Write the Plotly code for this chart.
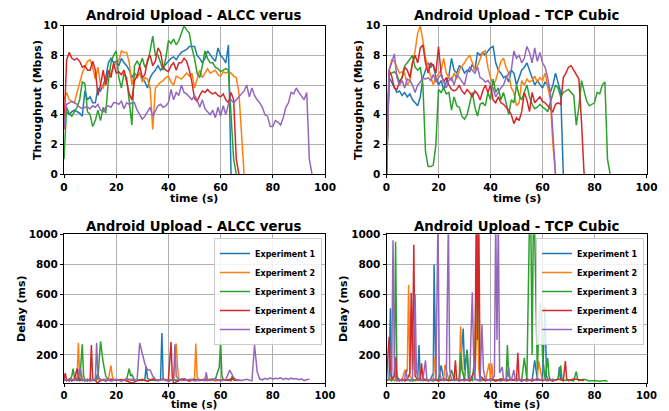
import plotly.graph_objects as go

# ---------------- DATA ----------------
colors = ["#1f77b4", "#ff7f0e", "#2ca02c", "#d62728", "#9467bd"]
exp_names = ["Experiment 1", "Experiment 2", "Experiment 3", "Experiment 4", "Experiment 5"]
titles = ["Android Upload - ALCC verus", "Android Upload - TCP Cubic"]
x_ticks = [0, 20, 40, 60, 80, 100]
thr_ticks = [0, 2, 4, 6, 8, 10]
delay_ticks = [200, 400, 600, 800, 1000]

# Throughput (Mbps), one sample per second starting at t=0
alcc_thr_1 = [4.0,4.2,4.0,4.2,4.3,4.2,4.1,3.9,5.6,5.0,
              5.2,4.8,4.8,5.8,5.6,6.0,6.5,7.5,7.8,7.5,
              7.6,7.3,7.8,7.5,7.3,7.0,6.5,6.8,6.6,6.8,
              6.5,6.2,5.8,6.5,6.8,7.0,7.3,7.0,7.2,7.4,
              7.6,7.8,7.9,7.7,8.0,8.2,8.3,8.4,8.6,8.6,
              8.6,8.0,7.8,7.5,7.8,8.3,8.0,7.8,7.6,8.5,
              8.0,7.8,7.5,8.7,0.0]
alcc_thr_2 = [5.0,5.5,5.0,4.9,4.8,5.5,6.2,6.8,7.2,7.6,
              7.7,7.2,6.4,7.2,6.0,5.8,6.2,6.5,6.8,7.2,
              7.5,7.6,8.3,8.2,8.2,7.5,6.0,6.8,6.5,6.8,
              6.2,6.5,6.4,5.8,3.0,5.8,6.0,6.2,6.3,6.5,
              6.6,6.2,6.0,6.6,6.5,6.4,6.6,6.8,6.6,6.8,
              5.8,6.5,7.0,6.5,6.8,7.1,6.8,6.9,7.0,6.7,
              6.6,6.9,6.8,6.9,6.8,6.6,6.5,5.5,2.5,0.0]
alcc_thr_3 = [1.0,4.5,4.1,3.9,4.2,4.5,5.0,6.2,6.1,4.2,
              4.0,3.2,3.6,4.3,3.6,4.5,4.1,6.3,7.5,8.0,
              8.3,6.5,5.8,6.8,6.5,4.8,3.3,7.3,7.6,7.3,
              7.8,7.2,7.5,8.3,9.3,8.0,8.0,7.5,7.0,7.8,
              9.0,8.8,9.1,8.7,9.0,9.5,10.0,9.7,9.5,8.5,
              7.8,6.8,6.5,7.3,8.3,7.8,7.5,7.5,7.2,7.1,
              6.9,7.0,7.1,7.0,4.0,1.0,0.0]
alcc_thr_4 = [3.0,7.7,8.2,7.8,7.7,7.8,7.6,7.2,7.3,7.0,
              7.0,7.6,7.0,5.3,6.0,7.0,6.0,7.0,6.5,7.5,
              6.8,6.9,6.7,7.0,6.2,5.4,5.0,6.3,6.6,7.3,
              6.5,6.7,7.7,8.0,7.3,7.6,8.5,8.2,7.2,7.0,
              6.9,7.3,7.5,7.0,7.5,7.5,7.8,7.6,7.0,6.2,
              5.1,4.9,5.3,5.6,5.5,5.7,5.5,5.4,5.5,5.3,
              5.2,5.4,5.0,4.8,5.5,5.0,1.0,0.0]
alcc_thr_5 = [3.2,4.7,4.8,4.9,4.8,4.7,4.5,4.4,4.5,4.5,
              4.4,4.6,4.5,4.7,4.3,4.2,4.5,4.6,4.5,4.8,
              4.8,4.7,4.9,4.4,4.8,4.7,4.8,4.8,4.3,4.0,
              3.7,3.9,4.2,4.5,3.9,4.3,4.6,4.7,4.5,4.6,
              4.8,5.7,5.0,5.5,5.3,6.0,5.5,5.4,5.2,5.0,
              5.3,5.0,4.5,5.0,4.4,4.2,4.0,4.3,3.8,4.5,
              3.9,4.6,4.0,4.7,5.0,4.8,5.0,5.2,5.4,5.6,
              6.0,5.2,5.8,5.3,5.0,4.8,4.5,4.0,3.9,3.2,
              3.2,3.6,3.5,3.3,3.8,4.5,4.8,5.5,5.4,5.8,
              5.5,5.2,5.0,5.5,1.0,0.0]

cubic_thr_1 = [0.0,6.5,6.2,5.8,5.5,5.6,5.3,5.5,5.2,5.4,
               5.0,4.8,4.6,5.2,6.5,7.0,7.5,7.2,7.4,6.5,
               6.0,6.3,5.7,6.2,6.6,7.8,7.0,6.8,7.3,7.2,
               6.8,7.0,6.9,7.4,7.0,8.2,8.0,8.2,8.0,8.3,
               8.5,8.6,7.5,7.0,6.8,6.5,6.6,6.2,7.0,6.8,
               6.0,6.5,7.0,7.2,7.5,7.0,6.5,6.0,6.3,6.0,
               5.8,6.2,6.0,5.5,6.0,6.8,6.2,5.5,0.0]
cubic_thr_2 = [0.0,7.0,7.7,7.6,7.2,6.8,6.9,6.8,6.0,6.3,
               7.5,8.3,9.5,10.0,9.0,7.8,7.2,6.5,6.0,6.5,
               6.8,7.0,7.8,6.8,6.5,6.3,6.8,6.4,7.0,7.3,
               7.5,7.8,8.0,7.5,7.0,7.3,7.8,8.2,8.3,7.2,
               6.5,6.0,6.3,7.0,7.6,7.8,7.2,6.8,5.8,5.5,
               4.6,4.8,6.3,6.0,6.4,6.2,6.3,6.6,6.2,6.5,
               6.3,6.8,6.0,5.0,2.0,0.0]
cubic_thr_3 = [0.0,6.7,6.8,6.9,6.7,6.2,6.5,7.3,7.5,7.8,
               8.0,7.2,7.0,7.2,6.0,1.5,0.5,0.5,0.6,2.0,
               5.7,5.5,5.8,5.4,5.5,4.3,5.2,4.6,4.5,3.9,
               3.7,4.0,4.8,5.5,4.5,3.9,4.7,4.8,4.6,5.5,
               5.0,6.4,5.5,5.8,5.0,5.5,4.8,4.0,5.0,4.8,
               6.0,5.3,5.0,5.5,6.0,5.2,4.7,4.4,4.5,4.7,
               4.5,4.4,4.2,4.8,5.5,6.0,5.8,5.2,5.5,5.6,
               5.7,5.5,5.3,3.3,4.5,6.3,5.5,4.9,4.6,4.7,
               4.8,5.5,5.4,6.0,6.2,1.0,0.0]
cubic_thr_4 = [0.0,7.0,6.6,5.8,5.7,6.2,6.5,7.2,7.0,6.5,
               7.5,8.0,7.5,8.5,8.7,7.5,6.8,7.5,7.3,6.8,
               8.6,6.8,6.2,6.5,6.0,5.7,5.6,5.7,6.0,5.6,
               5.4,5.7,5.5,5.2,5.6,5.4,5.0,5.6,6.0,5.5,
               6.0,5.0,4.8,5.2,4.8,4.7,4.5,4.3,4.0,3.4,
               3.8,3.6,4.2,5.5,5.0,4.2,5.5,4.8,5.0,5.2,
               4.9,4.8,4.6,4.4,4.2,4.7,4.8,4.7,6.5,6.8,
               7.2,7.3,7.0,6.6,6.4,3.5,0.0]
cubic_thr_5 = [0.0,7.0,7.5,8.1,6.5,6.0,6.3,5.8,6.4,6.3,
               6.0,5.5,6.0,6.2,6.5,6.4,6.5,6.3,6.7,6.2,
               6.5,6.7,6.2,5.8,6.3,6.5,6.0,6.7,6.5,6.2,
               6.0,6.8,7.2,7.0,6.8,7.2,6.5,6.4,6.2,6.3,
               6.0,5.8,5.2,5.5,5.8,6.0,6.5,6.8,7.0,8.3,
               7.8,8.0,7.5,7.8,8.6,8.2,7.5,8.5,7.6,8.2,
               7.5,7.2,6.5,5.5,2.5,0.0]

# Delay (ms), (time s, delay ms) samples
alcc_delay_1 = [(0,35),(1,30),(2,40),(3,28),(4,38),(5,30),(6,42),(7,30),(8,36),(9,28),(10,40),(11,32),
                (12,35),(12.5,60),(13,80),(13.5,35),(14,30),(16,38),(18,28),(20,36),(22,30),(24,40),
                (26,32),(28,35),(30,30),(31,40),(31.5,125),(32,45),(33,35),(35,30),(37,35),(37.5,345),
                (38,40),(39,30),(41,35),(43,30),(45,40),(47,32),(49,38),(51,30),(53,36),(55,30),
                (57,40),(59,32),(61,38),(63,30),(64,35)]
alcc_delay_2 = [(0,30),(1,38),(2,28),(3,40),(4,32),(5,45),(5.5,280),(6,60),(6.5,100),(7,35),(8,30),
                (9,40),(10,28),(11,36),(12,30),(13,42),(14,28),(15,35),(16,30),(17,40),(18,130),
                (18.5,60),(19,35),(20,30),(22,38),(24,28),(26,40),(28,30),(30,36),(32,28),(34,40),
                (36,30),(38,38),(40,28),(42,36),(43,275),(43.5,120),(44,40),(45,30),(46,38),(48,28),
                (50,40),(50.5,275),(51,50),(52,35),(54,30),(56,40),(58,28),(60,36),(62,30),(64,40),
                (66,32),(68,30)]
alcc_delay_3 = [(0,30),(1,40),(2,28),(3,60),(3.5,110),(4,50),(5,38),(6,30),(7,270),(7.5,60),(8,35),
                (9,28),(10,40),(11,30),(12,36),(13,45),(14,290),(15,150),(16,60),(17,35),(18,30),
                (20,38),(22,28),(24,40),(25,110),(25.5,60),(26,70),(27,35),(28,30),(30,38),(32,28),
                (34,36),(36,30),(38,40),(40,28),(42,36),(44,30),(46,40),(48,32),(50,38),(52,30),
                (54,36),(56,30),(58,40),(59.5,120),(60,290),(60.5,60),(61,35),(62,30),(64,40),(66,35)]
alcc_delay_4 = [(0,40),(0.5,80),(1,30),(2,38),(3,28),(4,40),(5,110),(5.5,45),(6,30),(7,38),(8,28),
                (9,36),(10,30),(10.5,265),(11,40),(12,30),(13,12),(14,38),(16,28),(18,40),(20,30),
                (22,36),(24,28),(26,12),(28,30),(30,36),(32,28),(34,40),(36,30),(38,38),(40,30),
                (41,285),(41.5,50),(42,12),(44,30),(46,40),(48,28),(50,36),(52,30),(54,40),(56,32),
                (58,38),(60,30),(62,36),(64,30),(64.5,60),(65,35),(66,30),(67,35)]
alcc_delay_5 = [(0,30),(1,38),(2,28),(3,40),(4,30),(5,45),(6,110),(6.5,60),(7,35),(8,30),(9,38),
                (10,28),(11,40),(12,35),(12.5,280),(13,60),(14,30),(15,38),(16,28),(17,40),(18,30),
                (20,36),(22,28),(24,40),(26,35),(28,30),(29,280),(30,200),(31,140),(32,100),(33,100),
                (34,60),(35,40),(36,30),(38,38),(40,28),(42,36),(42.5,270),(43,60),(44,35),(46,30),
                (48,38),(50,28),(52,36),(54,30),(54.5,85),(55,35),(56,30),(58,38),(60,28),(62,36),
                (63.5,100),(64,80),(65,50),(66,35),(68,30),(70,38),(72,28),(73,265),(73.5,180),
                (74,90),(75,40),(76,35),(77,45),(78,38),(79,48),(80,40),(81,46),(82,42),(83,48),
                (84,38),(85,45),(86,38),(87,46),(88,40),(89,44),(90,36),(91,42),(92,30),(93,35),(94,40)]

cubic_delay_1 = [(0,30),(1,40),(1.5,510),(2,50),(3,30),(4,38),(5,28),(6,40),(7,30),(8,36),(9,28),
                 (10,40),(11,30),(12,36),(12.5,265),(13,40),(14,30),(15,38),(16,28),(17,40),(18,80),
                 (18.3,800),(19,40),(20,30),(21,130),(22,40),(24,30),(26,38),(28,28),(29.5,375),
                 (30,100),(31,230),(31.5,40),(32,30),(34,38),(36,28),(38,40),(40,30),(42,36),(44,28),
                 (46,40),(48,30),(50,36),(52,28),(54,40),(56,30),(57,165),(58,40),(60,30),(61,520),
                 (61.5,60),(62,40),(64,30),(66,38),(66.5,120),(67,40),(68,30)]
cubic_delay_2 = [(0,30),(2,40),(4,28),(6,36),(7,95),(7.5,100),(8,90),(8.5,665),(9,60),(10,35),
                 (12,30),(14,40),(16,28),(18,36),(18.5,185),(19,40),(20,30),(22,40),(22.5,135),
                 (24,30),(26,38),(28,40),(28.5,390),(29,120),(30,40),(32,30),(34,38),(35,530),
                 (35.5,100),(36,35),(38,30),(39.5,145),(40,40),(40.5,145),(41,40),(42,30),(44,38),
                 (46,28),(48,36),(50,30),(52,40),(54,28),(56,36),(58,40),(58.5,160),(60,30),(62,40),
                 (64,30)]
cubic_delay_3 = [(0,30),(1,40),(2,28),(3,60),(3.5,950),(4,60),(5,35),(6,30),(8,38),(10,28),(12,40),
                 (14,30),(16,36),(18,28),(20,40),(22,30),(24,38),(25,100),(26,40),(28,30),(28.5,215),
                 (29,100),(30,40),(31,235),(31.5,100),(32,40),(33,30),(34,200),(35,1100),(35.5,580),
                 (36,40),(38,30),(40,38),(42,28),(44,40),(46,36),(46.5,265),(47,60),(48,35),(50,40),
                 (52,30),(53,180),(53.5,100),(54,40),(55,1100),(55.5,1100),(56,200),(56.5,1100),
                 (57,1000),(58,100),(59,545),(59.5,500),(60,200),(61,40),(62,180),(62.5,60),(63,35),
                 (64,30),(66,38),(67,130),(67.5,40),(68,30),(70,36),(72,28),(73,90),(73.5,40),(74,30),
                 (76,38),(78,28),(80,30),(82,25),(84,30),(85,25)]
cubic_delay_4 = [(0,40),(0.5,160),(1,320),(1.5,100),(2,40),(3,60),(3.5,185),(4,40),(5,30),(6,38),
                 (7,28),(8,40),(9,80),(9.5,610),(10,100),(10.5,930),(11,60),(12,35),(13,40),(13.5,145),
                 (14,40),(16,30),(18,38),(20,28),(22,40),(24,30),(26,36),(26.5,165),(27,40),(28,30),
                 (30,38),(32,28),(34,100),(34.5,1100),(35,300),(35.5,1100),(36,60),(38,30),(40,38),
                 (42,28),(44,40),(46,30),(48,36),(50,30),(50.5,215),(51,40),(52,30),(54,38),(56,28),
                 (58,40),(60,30),(62,36),(64,28),(66,40),(68,30),(68.8,160),(69.3,40),(70,30),(72,40),
                 (74,36),(76,30)]
cubic_delay_5 = [(0,30),(1,40),(2,100),(2.5,960),(3,200),(3.5,40),(4,30),(5,38),(6,28),(7,40),
                 (7.5,100),(8,40),(9,30),(10,38),(10.5,270),(11,600),(11.5,100),(12,40),(13,30),
                 (14,38),(15,165),(15.5,40),(16,30),(18,38),(19,40),(19.8,1100),(20.3,100),(21,40),
                 (22,30),(23,40),(23.8,1100),(24.3,100),(25,40),(26,30),(28,38),(30,28),(32,40),
                 (33,615),(33.5,200),(34,40),(36,30),(36.7,400),(37.3,100),(38,40),(40,30),(41.5,60),
                 (42,1100),(42.5,300),(43,1100),(43.5,80),(44.5,120),(45,40),(46,30),(47,120),
                 (47.5,40),(48,30),(49,100),(49.5,40),(50,30),(52,38),(54,28),(56,40),(58,30),
                 (60,38),(62,28),(64,40),(65,30)]

alcc_thr = [alcc_thr_1, alcc_thr_2, alcc_thr_3, alcc_thr_4, alcc_thr_5]
cubic_thr = [cubic_thr_1, cubic_thr_2, cubic_thr_3, cubic_thr_4, cubic_thr_5]
alcc_delay = [alcc_delay_1, alcc_delay_2, alcc_delay_3, alcc_delay_4, alcc_delay_5]
cubic_delay = [cubic_delay_1, cubic_delay_2, cubic_delay_3, cubic_delay_4, cubic_delay_5]

# ---------------- FIGURE ----------------
W, H = 669, 411
FONT = "DejaVu Sans"

def px_x(p):
    return p / W

def px_y(p):
    return 1 - p / H

dom_x = [[px_x(64), px_x(325)], [px_x(386.5), px_x(646.5)]]
dom_y_top = [px_y(174), px_y(25.7)]
dom_y_bot = [px_y(383.3), px_y(234.3)]

fig = go.Figure()

line_w = 1.5

# Throughput traces
for col, data in enumerate([alcc_thr, cubic_thr]):
    xa = "x" if col == 0 else "x2"
    ya = "y" if col == 0 else "y2"
    for i, vals in enumerate(data):
        fig.add_trace(go.Scatter(x=list(range(len(vals))), y=vals, mode="lines",
                                 line=dict(color=colors[i], width=line_w),
                                 xaxis=xa, yaxis=ya, showlegend=False, hoverinfo="skip"))

# Delay traces
for col, data in enumerate([alcc_delay, cubic_delay]):
    xa = "x3" if col == 0 else "x4"
    ya = "y3" if col == 0 else "y4"
    lg = "legend" if col == 0 else "legend2"
    for i, pairs in enumerate(data):
        fig.add_trace(go.Scatter(x=[p[0] for p in pairs], y=[p[1] for p in pairs], mode="lines",
                                 line=dict(color=colors[i], width=line_w), name=exp_names[i],
                                 xaxis=xa, yaxis=ya, legend=lg, showlegend=True, hoverinfo="skip"))

tickfont = dict(family=FONT, size=10.5, color="black", weight="bold")
tickfont_bottom = dict(family=FONT, size=10, color="black", weight="bold")
base_axis = dict(showline=True, linecolor="black", linewidth=1, mirror=True,
                 ticks="outside", tickcolor="black", tickwidth=1,
                 showgrid=True, gridcolor="#b0b0b0", gridwidth=1, zeroline=False,
                 automargin=False)

layout = dict(width=W, height=H, margin=dict(l=0, r=0, t=0, b=0, autoexpand=False),
              paper_bgcolor="white", plot_bgcolor="white", showlegend=True)

for k, (dx, dy, is_thr) in enumerate([(dom_x[0], dom_y_top, True), (dom_x[1], dom_y_top, True),
                                      (dom_x[0], dom_y_bot, False), (dom_x[1], dom_y_bot, False)]):
    sfx = "" if k == 0 else str(k + 1)
    xfont = tickfont if is_thr else tickfont_bottom
    xlen = 3 if is_thr else 2.5
    layout["xaxis" + sfx] = dict(domain=dx, range=[0, 100], tickvals=x_ticks,
                                 anchor="y" + sfx, tickfont=xfont, ticklen=xlen, **base_axis)
    if is_thr:
        layout["yaxis" + sfx] = dict(domain=dy, range=[0, 10], tickvals=thr_ticks,
                                     anchor="x" + sfx, tickfont=tickfont, ticklen=3, **base_axis)
    else:
        layout["yaxis" + sfx] = dict(domain=dy, range=[12, 1000], tickvals=delay_ticks,
                                     anchor="x" + sfx, tickfont=tickfont, ticklen=3, **base_axis)

legend_style = dict(font=dict(family=FONT, size=8, color="black", weight="bold"),
                    bgcolor="rgba(255,255,255,0.85)", bordercolor="#cccccc", borderwidth=1,
                    xanchor="right", yanchor="top", tracegroupgap=0, itemwidth=30)
layout["legend"] = dict(x=px_x(322), y=px_y(238), **legend_style)
layout["legend2"] = dict(x=px_x(644), y=px_y(238), **legend_style)

fig.update_layout(**layout)

# Titles and axis labels
title_font = dict(family=FONT, size=13.3, color="black", weight="bold")
label_font = dict(family=FONT, size=11, color="black", weight="bold")
bottom_label_font = dict(family=FONT, size=10.5, color="black", weight="bold")
ann = []
for c in range(2):
    cx = (dom_x[c][0] + dom_x[c][1]) / 2
    ann.append(dict(text=titles[c], x=cx, y=px_y(16), xref="paper", yref="paper",
                    showarrow=False, font=title_font, xanchor="center", yanchor="middle"))
    ann.append(dict(text=titles[c], x=cx, y=px_y(226), xref="paper", yref="paper",
                    showarrow=False, font=title_font, xanchor="center", yanchor="middle"))
    ann.append(dict(text="time (s)", x=cx, y=px_y(198), xref="paper", yref="paper",
                    showarrow=False, font=label_font, xanchor="center", yanchor="middle"))
    ann.append(dict(text="time (s)", x=cx, y=px_y(411), xref="paper", yref="paper",
                    showarrow=False, font=bottom_label_font, xanchor="center", yanchor="bottom",
                    borderpad=0))
ann.append(dict(text="Throughput (Mbps)", x=px_x(37), y=px_y(100), xref="paper", yref="paper",
                showarrow=False, font=label_font, textangle=-90, xanchor="center", yanchor="middle"))
ann.append(dict(text="Throughput (Mbps)", x=px_x(358), y=px_y(100), xref="paper", yref="paper",
                showarrow=False, font=label_font, textangle=-90, xanchor="center", yanchor="middle"))
ann.append(dict(text="Delay (ms)", x=px_x(21), y=px_y(309), xref="paper", yref="paper",
                showarrow=False, font=label_font, textangle=-90, xanchor="center", yanchor="middle"))
ann.append(dict(text="Delay (ms)", x=px_x(343), y=px_y(309), xref="paper", yref="paper",
                showarrow=False, font=label_font, textangle=-90, xanchor="center", yanchor="middle"))
fig.update_layout(annotations=ann)

fig.write_html("out.html", config={"displayModeBar": False},
               post_script="document.body.style.margin='0px';document.body.style.padding='0px';")
